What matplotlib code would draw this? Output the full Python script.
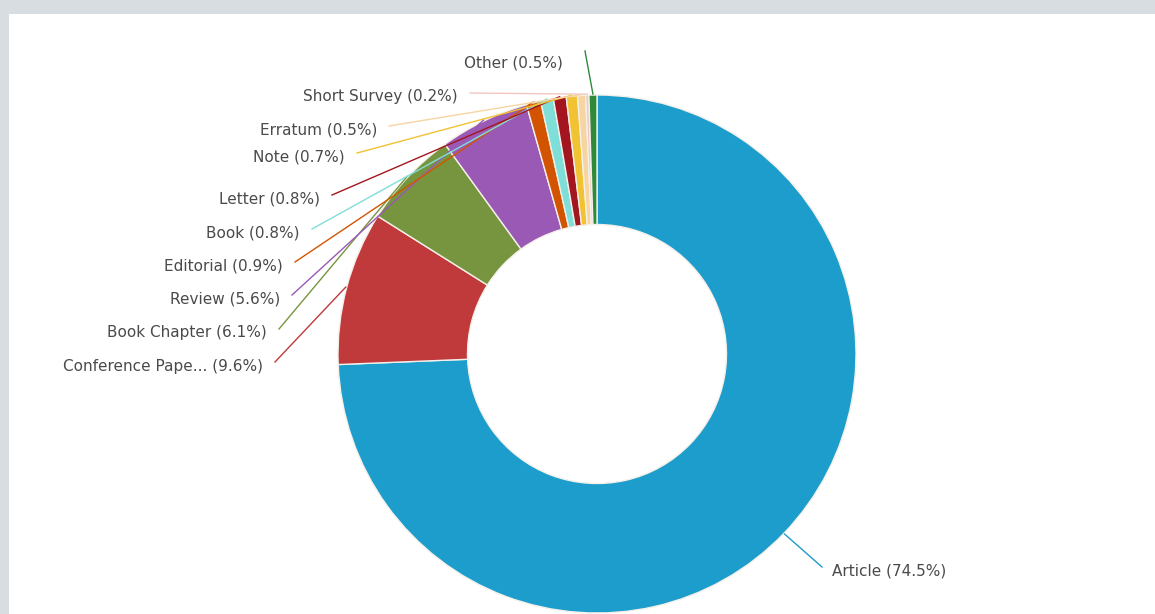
import matplotlib.pyplot as plt
import numpy as np
from matplotlib.patches import Rectangle

# document types and their share (%)
labels = ['Article', 'Conference Pape...', 'Book Chapter', 'Review', 'Editorial',
          'Book', 'Letter', 'Note', 'Erratum', 'Short Survey', 'Other']
shares = [74.5, 9.6, 6.1, 5.6, 0.9, 0.8, 0.8, 0.7, 0.5, 0.2, 0.5]
colors = ['#1c9dcb', '#c0393b', '#77953e', '#9b59b6', '#d35400', '#80ded8',
          '#a3161f', '#f1c232', '#f6d5a2', '#f2c6c2', '#2f8a3a']

W, H = 1155, 614
def py(y):
    return H - y

# label anchor (pixel x, pixel y, horizontal alignment)
label_pos = [(832, 571, 'left'), (263, 366, 'right'), (267, 333, 'right'),
             (280, 299, 'right'), (283, 266, 'right'), (300, 233, 'right'),
             (320, 199, 'right'), (345, 157, 'right'), (377, 130, 'right'),
             (458, 97, 'right'), (513, 63, 'center')]

fig = plt.figure(figsize=(W / 100, H / 100), dpi=100, facecolor='#d8dde2')
ax = fig.add_axes([0, 0, 1, 1])
ax.add_patch(Rectangle((9, 0), W - 9, py(14), facecolor='white', edgecolor='none', zorder=0))

cx, cy, r = 597, py(354), 259
wedges, _ = ax.pie(shares, colors=colors, startangle=90, counterclock=False,
                   center=(cx, cy), radius=r, frame=True,
                   wedgeprops=dict(width=r * 0.5, edgecolor='#f4f0ea', linewidth=1))
ax.set_xlim(0, W)
ax.set_ylim(0, H)
ax.set_aspect('equal')
ax.axis('off')

for w, lab, val, c, (lx, ly, ha) in zip(wedges, labels, shares, colors, label_pos):
    mid = np.deg2rad((w.theta1 + w.theta2) / 2)
    tx, ty = cx + (r + 1) * np.cos(mid), cy + (r + 1) * np.sin(mid)
    if ha == 'right':
        sx, sy = lx + 12, py(ly) + 4
    elif ha == 'left':
        sx, sy = lx - 10, py(ly) + 4
    else:
        sx, sy = lx + 72, py(ly) + 12
    ax.plot([sx, tx], [sy, ty], color=c, lw=1, zorder=1)
    ax.text(lx, py(ly), f'{lab} ({val}%)', ha=ha, va='center',
            fontsize=11, color='#4a4a4a', family='DejaVu Sans')

fig.savefig('out.png', dpi=100, facecolor=fig.get_facecolor())
